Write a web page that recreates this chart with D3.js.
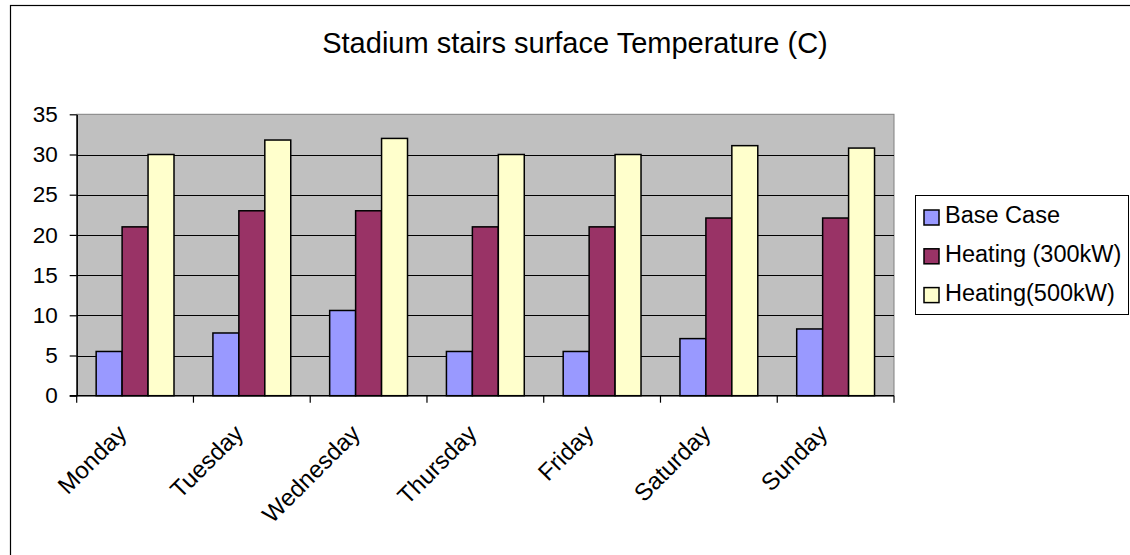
<!DOCTYPE html>
<html>
<head>
<meta charset="utf-8">
<script src="https://cdn.jsdelivr.net/npm/d3@7"></script>
<style>
  html, body { margin: 0; padding: 0; background: #fff; }
  svg { display: block; font-family: Arial, "Liberation Sans", sans-serif; }
</style>
</head>
<body>
<svg id="chart" width="1130" height="555"></svg>
<script>
// Weekly stair surface temperatures for three heating scenarios
const days = ["Monday", "Tuesday", "Wednesday", "Thursday", "Friday", "Saturday", "Sunday"];
const seriesNames = ["Base Case", "Heating (300kW)", "Heating(500kW)"];
const baseCase = [5.5, 7.8, 10.6, 5.5, 5.5, 7.1, 8.3];
const heating300 = [21, 23, 23, 21, 21, 22.1, 22.1];
const heating500 = [30, 31.8, 32, 30, 30, 31.1, 30.8];
const yTicks = [0, 5, 10, 15, 20, 25, 30, 35];
const seriesColors = ["#9999FF", "#993366", "#FFFFCC"];

const seriesValues = [baseCase, heating300, heating500];
const rows = days.map((d, i) => ({
  day: d,
  values: seriesNames.map((s, j) => ({ series: s, value: seriesValues[j][i], color: seriesColors[j] }))
}));

const svg = d3.select("#chart");
const plot = { left: 76.7, right: 894, top: 114.3, bottom: 395.7 };

// outer chart frame (runs off the right and bottom edges)
svg.append("rect")
  .attr("x", 10.5).attr("y", 5.5)
  .attr("width", 1130).attr("height", 560)
  .attr("fill", "#fff").attr("stroke", "#000").attr("stroke-width", 1.2);

// title
svg.append("text")
  .attr("x", 575).attr("y", 53)
  .attr("text-anchor", "middle")
  .attr("font-size", 29)
  .attr("fill", "#000")
  .text("Stadium stairs surface Temperature (C)");

const x0 = d3.scaleBand().domain(days).range([plot.left, plot.right]).paddingInner(0).paddingOuter(0);
const x1 = d3.scaleBand().domain(seriesNames).range([0, x0.bandwidth()]).paddingInner(0).paddingOuter(0.75);
const y = d3.scaleLinear().domain([0, 35]).range([plot.bottom, plot.top]);

// plot background
svg.append("rect")
  .attr("x", plot.left).attr("y", plot.top)
  .attr("width", plot.right - plot.left).attr("height", plot.bottom - plot.top)
  .attr("fill", "#C0C0C0").attr("stroke", "#808080").attr("stroke-width", 1);

// horizontal gridlines
svg.append("g")
  .selectAll("line")
  .data(yTicks.filter(t => t > 0 && t < 35))
  .join("line")
  .attr("x1", plot.left).attr("x2", plot.right)
  .attr("y1", d => Math.round(y(d)) + 0.5).attr("y2", d => Math.round(y(d)) + 0.5)
  .attr("stroke", "#000").attr("stroke-width", 1);

// bars
const groups = svg.append("g")
  .selectAll("g")
  .data(rows)
  .join("g")
  .attr("transform", d => `translate(${x0(d.day)},0)`);

groups.selectAll("rect")
  .data(d => d.values)
  .join("rect")
  .attr("x", d => x1(d.series))
  .attr("width", x1.bandwidth())
  .attr("y", d => y(d.value))
  .attr("height", d => y(0) - y(d.value))
  .attr("fill", d => d.color)
  .attr("stroke", "#000")
  .attr("stroke-width", 1.5);

// y axis
const yAxis = svg.append("g")
  .attr("transform", `translate(${plot.left},0)`)
  .call(d3.axisLeft(y).tickValues(yTicks).tickSize(7).tickPadding(12).tickSizeOuter(0));
yAxis.select(".domain").attr("stroke", "#000").attr("stroke-width", 1.5);
yAxis.selectAll(".tick line").attr("stroke", "#000").attr("stroke-width", 1.2);
yAxis.selectAll(".tick text")
  .attr("font-size", 22.5)
  .attr("font-family", "Arial, 'Liberation Sans', sans-serif")
  .attr("fill", "#000");

// x axis: baseline plus boundary ticks
const xAxis = svg.append("g");
xAxis.append("line")
  .attr("x1", plot.left - 7).attr("x2", plot.right)
  .attr("y1", plot.bottom).attr("y2", plot.bottom)
  .attr("stroke", "#000").attr("stroke-width", 1.5);
const boundaries = days.map(d => x0(d)).concat([x0.range()[1]]);
xAxis.selectAll("line.tk")
  .data(boundaries)
  .join("line")
  .attr("class", "tk")
  .attr("x1", d => d).attr("x2", d => d)
  .attr("y1", plot.bottom).attr("y2", plot.bottom + 7)
  .attr("stroke", "#000").attr("stroke-width", 1.2);
xAxis.selectAll("text")
  .data(days)
  .join("text")
  .attr("transform", d => `translate(${x0(d) + x0.bandwidth() / 2 - 7},435) rotate(-45)`)
  .attr("text-anchor", "end")
  .attr("font-size", 24)
  .attr("fill", "#000")
  .text(d => d);

// legend
const legend = svg.append("g");
legend.append("rect")
  .attr("x", 915.5).attr("y", 195.5)
  .attr("width", 213).attr("height", 119)
  .attr("fill", "#fff").attr("stroke", "#000").attr("stroke-width", 1);
const items = legend.selectAll("g.item")
  .data(seriesNames)
  .join("g")
  .attr("class", "item")
  .attr("transform", (d, i) => `translate(0,${i * 38.8})`);
items.append("rect")
  .attr("x", 924).attr("y", 210)
  .attr("width", 15).attr("height", 15)
  .attr("fill", (d, i) => seriesColors[i])
  .attr("stroke", "#000").attr("stroke-width", 1.5);
items.append("text")
  .attr("x", 945).attr("y", 223)
  .attr("font-size", 23.5)
  .attr("fill", "#000")
  .text(d => d);
</script>
</body>
</html>
